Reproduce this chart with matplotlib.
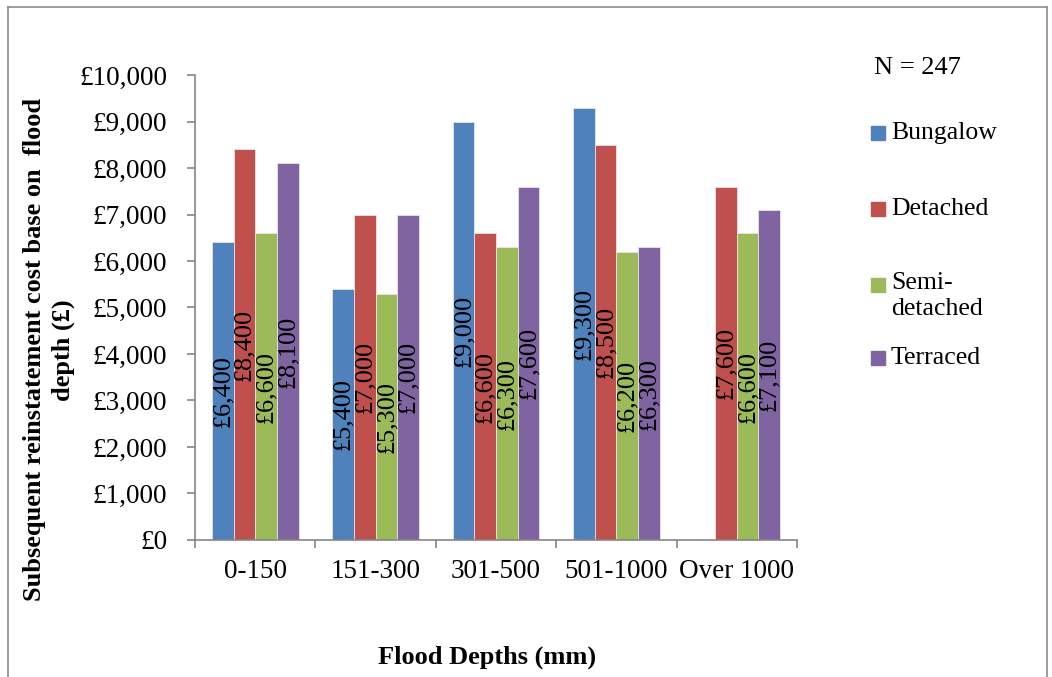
import matplotlib.pyplot as plt
import numpy as np
from matplotlib.patches import Rectangle
from matplotlib.lines import Line2D

# --------------------------------------------------
# Data
# --------------------------------------------------
categories = ['0-150', '151-300', '301-500', '501-1000', 'Over 1000']
series = ['Bungalow', 'Detached', 'Semi-\ndetached', 'Terraced']
bungalow = [6400, 5400, 9000, 9300, np.nan]
detached = [8400, 7000, 6600, 8500, 7600]
semi_detached = [6600, 5300, 6300, 6200, 6600]
terraced = [8100, 7000, 7600, 6300, 7100]
y_ticks = [0, 1000, 2000, 3000, 4000, 5000, 6000, 7000, 8000, 9000, 10000]

colors = ['#4F81BD', '#C0504D', '#9BBB59', '#8064A2']
values = [bungalow, detached, semi_detached, terraced]

plt.rcParams['font.family'] = ['Liberation Serif', 'DejaVu Serif']

fig = plt.figure(figsize=(10.52, 6.77), dpi=100)
ax = fig.add_axes([0.1854, 0.2024, 0.5722, 0.6868])

# --------------------------------------------------
# Bars + rotated labels
# --------------------------------------------------
x = np.arange(len(categories))
bw = 0.18
for i, (vals, c) in enumerate(zip(values, colors)):
    xs = x + (i - 1.5) * bw
    ax.bar(xs, vals, width=bw, color=c, edgecolor='#e6e6e6', linewidth=0.6)
    for xi, v in zip(xs, vals):
        if np.isnan(v):
            continue
        ax.text(xi, v / 2, f'£{int(v):,}', rotation=90, ha='center',
                va='center', fontsize=19, color='black')

# --------------------------------------------------
# Axes styling
# --------------------------------------------------
ax.set_xlim(-0.5, len(categories) - 0.5)
ax.set_ylim(0, 10000)
ax.set_yticks(y_ticks)
ax.set_yticklabels([f'£{t:,}' for t in y_ticks], fontsize=19.5)
ax.set_xticks(x)
ax.set_xticklabels(categories, fontsize=19.5)
ax.tick_params(axis='x', length=0, pad=14)
ax.tick_params(axis='y', length=6, color='#868686', width=1.2, pad=14)
# category boundary ticks
ax.set_xticks(np.arange(-0.5, len(categories)), minor=True)
ax.tick_params(axis='x', which='minor', length=6, color='#868686', width=1.2)

for s in ['top', 'right']:
    ax.spines[s].set_visible(False)
for s in ['left', 'bottom']:
    ax.spines[s].set_color('#868686')
    ax.spines[s].set_linewidth(1.2)

ax.set_xlabel('Flood Depths (mm)', fontsize=19, fontweight='bold')
ax.xaxis.set_label_coords(0.485, -0.228)
ax.set_ylabel('Subsequent reinstatement cost base on  flood\ndepth (£)',
              fontsize=19, fontweight='bold', linespacing=1.3)
ax.yaxis.set_label_coords(-0.2, 0.409)

# --------------------------------------------------
# Legend (manual, Excel style)
# --------------------------------------------------
fig.text(874 / 1052, 1 - 68 / 677, 'N = 247', fontsize=19, va='center')
leg_y = [133, 209, 285, 358]
for lab, c, yy in zip(series, colors, leg_y):
    fig.patches.append(Rectangle((871 / 1052, 1 - (yy + 7) / 677), 14 / 1052, 14 / 677,
                                 transform=fig.transFigure, color=c))
    if '\n' in lab:
        fig.text(891 / 1052, 1 - (yy - 13) / 677, lab, fontsize=18.5, va='top',
                 linespacing=1.25)
    else:
        fig.text(891 / 1052, 1 - yy / 677, lab, fontsize=18.5, va='center')

# --------------------------------------------------
# Outer frame
# --------------------------------------------------
fx0, fx1, fy1 = 8 / 1052, 1047 / 1052, 1 - 7 / 677
for xs_, ys_ in [([fx0, fx0], [0, fy1]), ([fx0, fx1], [fy1, fy1]), ([fx1, fx1], [0, fy1])]:
    fig.lines.append(Line2D(xs_, ys_, transform=fig.transFigure, color='#8c8c8c', lw=1.2))

fig.savefig('out.png', dpi=100)
